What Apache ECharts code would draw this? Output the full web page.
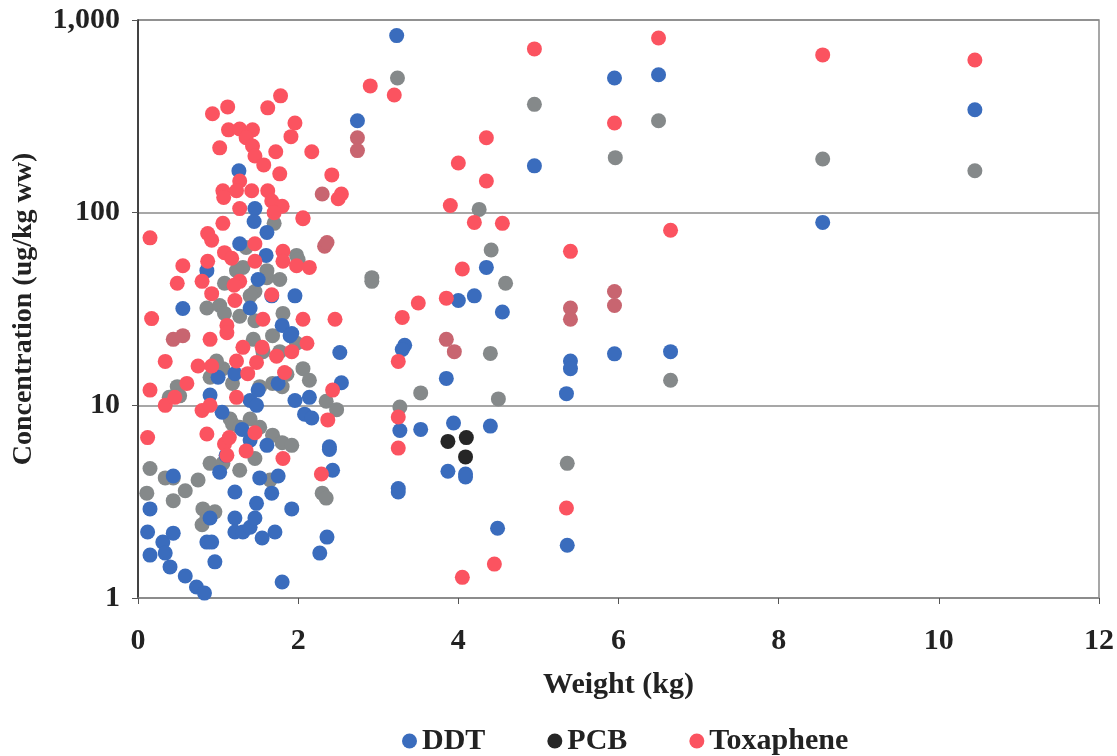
<!DOCTYPE html>
<html>
<head>
<meta charset="utf-8">
<script src="https://cdn.jsdelivr.net/npm/echarts@6/dist/echarts.min.js"></script>
<style>html,body{margin:0;padding:0;background:#fff}#c{width:1117px;height:756px}</style>
</head>
<body>
<div id="c"></div>
<script>
const seriesNames = ['DDT', 'PCB', 'Toxaphene'];
const xTicks = [0, 2, 4, 6, 8, 10, 12];
const yTicks = [1, 10, 100, 1000];

const ddt = [
 [3.23,830],[2.74,300],[4.95,175],[5.95,500],[6.5,520],[10.45,342],[8.55,89],[6.65,19],[5.95,18.5],[5.4,17],[5.4,15.5],[5.35,11.5],
 [4.55,30.5],[4.35,52],[4.2,37],[4.0,35],[3.33,20.5],[3.3,19.5],[3.85,13.8],[3.94,8.1],[4.4,7.8],[3.53,7.5],[3.27,7.4],[3.87,4.55],
 [4.09,4.25],[4.09,4.4],[3.25,3.7],[3.25,3.55],[4.49,2.3],[5.36,1.88],
 [1.26,165],[1.46,105],[1.27,69],[1.61,79],[0.86,50],[0.56,31.8],[1.67,37],[1.96,37],[1.4,32],[1.8,26],[1.92,23.6],[2.52,18.8],
 [2.54,13.1],[0.9,11.3],[1.05,9.2],[1.4,10.6],[1.48,10],[1.96,10.6],[2.14,11],[2.08,9],[2.17,8.6],[1.4,6.6],[1.61,6.2],[2.39,6.1],
 [1.21,14.6],[1.9,23],[0.15,2.9],[0.12,2.2],[0.15,1.67],[0.31,1.95],[0.44,2.17],[0.34,1.71],[0.4,1.45],[0.59,1.3],[0.73,1.14],
 [0.83,1.06],[0.86,1.95],[0.92,1.95],[0.96,1.54],[1.21,3.55],[1.21,2.6],[1.21,2.2],[1.31,2.2],[1.4,2.33],[1.46,2.6],[1.48,3.1],
 [1.55,2.05],[1.71,2.2],[1.67,3.5],[1.92,2.9],[2.36,2.07],[2.27,1.71],[1.8,1.21],[2.43,4.6],[1.75,4.3],[1.52,4.2],[0.44,4.3],
 [1.02,4.5],[2.39,5.9],[0.9,2.6],[1.1,5.5],[1.3,7.5],[1.5,12],[1.75,13],[1.0,14],[1.5,45],[1.6,60],[1.45,90]
];

const pcb = [
 [3.24,500],[4.95,365],[6.5,300],[5.96,193],[8.55,190],[10.45,165],[4.26,104],[4.41,64],[4.59,43],[2.92,46],[2.92,44],
 [4.4,18.6],[3.53,11.6],[4.5,10.8],[3.27,9.8],[5.36,5.0],[6.65,13.5],
 [0.15,4.7],[0.34,4.2],[0.44,4.2],[0.59,3.6],[0.44,3.2],[0.11,3.5],[0.75,4.1],[0.9,5],[1.06,5],[1.27,4.6],[1.46,5.3],[1.65,4.1],
 [0.81,2.9],[0.96,2.8],[0.8,2.4],[0.86,2.6],[2.3,3.5],[2.35,3.3],
 [0.9,14],[1.06,15.5],[1.18,13],[1.52,12.5],[1.68,13],[1.8,12.5],[2.06,15.5],[2.14,13.5],[2.35,10.5],[2.48,9.5],[0.49,12.5],
 [0.39,11],[0.52,11.2],[1.15,8.5],[1.18,8],[1.27,7.7],[1.68,7],[1.8,6.4],[1.92,6.2],[1.4,8.5],[1.52,7.7],[1.44,22],[1.68,23],
 [1.56,19],[1.77,19],[1.98,21],[1.86,14.5],[0.98,17],
 [1.08,43],[1.31,52],[1.46,39],[1.61,46],[1.77,45],[1.98,60],[0.86,32],[1.02,33],[1.27,29],[1.46,27.5],[1.81,30],[1.23,50],
 [1.61,50],[1.4,37],[1.08,30],[2.0,57],[1.7,88],[1.35,66]
];
const pcbDark = [[3.87,6.5],[4.1,6.8],[4.09,5.4]];

const toxaphene = [
 [4.95,708],[6.5,807],[8.55,659],[10.45,620],[5.95,292],[6.65,81],[5.4,63],[5.35,2.93],[4.0,181],[4.35,245],[4.35,146],[4.2,89],
 [4.55,88],[3.9,109],[4.05,51],[3.85,36],[3.5,34],[3.3,28.6],[3.25,16.9],[3.25,8.7],[3.25,6.0],[4.05,1.28],[4.45,1.5],[2.9,455],
 [3.2,408],
 [0.93,326],[1.12,354],[1.62,350],[1.78,404],[1.96,292],[1.91,248],[2.17,207],[2.42,157],[2.54,125],[2.5,118],[1.13,269],[1.27,272],
 [1.43,269],[1.35,245],[1.02,217],[1.43,222],[1.46,197],[1.57,177],[1.72,207],[1.77,159],[1.27,146],[1.06,130],[1.07,120],[1.23,130],
 [1.42,130],[1.62,130],[1.67,115],[1.8,108],[1.27,105],[2.06,94],[0.15,74],[1.06,88],[0.87,78],[0.92,72],[1.46,69],[2.06,93],
 [0.56,53],[0.49,43],[0.87,56],[0.8,44],[0.92,38],[1.08,62],[1.17,58],[1.46,56],[1.81,63],[1.81,56],[1.98,53],[2.14,52],[0.17,28.2],
 [1.27,44],[1.21,35],[1.67,37.5],[1.56,28],[2.06,28],[2.46,28],[1.11,26],[0.34,16.9],[0.15,12],[0.34,10],[0.46,11],[0.61,13],
 [0.8,9.4],[0.9,10],[0.12,6.8],[0.75,16],[0.92,16],[0.9,22],[1.11,23.8],[1.31,20],[1.55,20],[1.23,17],[1.48,16.7],[1.73,18],
 [1.92,19],[2.11,21],[1.37,14.6],[1.83,14.8],[1.23,11],[2.43,12],[2.37,8.4],[0.86,7.1],[1.08,6.3],[1.14,6.8],[1.46,7.2],[1.81,5.3],
 [2.29,4.4],[1.11,5.5],[1.35,5.8],[1.2,42],[1.7,100]
];
// points where a Toxaphene mark overlaps a PCB mark (appear mauve)
const toxapheneOverlap = [
 [2.74,245],[2.74,210],[3.85,22],[3.95,19],[5.4,32],[5.4,28],[5.95,39],[5.95,33],[0.44,22],[0.56,23],[2.3,125],[2.33,67],[2.36,70]
];

const colors = { DDT: '#3a6cbd', PCB: '#85898a', PCBdark: '#262626', Tox: '#fb5360', TorP: '#c86570' };
const font = '"Liberation Serif", "Times New Roman", serif';

const chart = echarts.init(document.getElementById('c'), null, { renderer: 'canvas' });
chart.setOption({
  animation: false,
  backgroundColor: '#fff',
  grid: { left: 138, right: 17, top: 20, bottom: 158, show: true, borderColor: '#8a8a8a', borderWidth: 1.5 },
  xAxis: {
    type: 'value', min: 0, max: 12, interval: 2,
    name: 'Weight (kg)', nameLocation: 'middle', nameGap: 72,
    nameTextStyle: { fontFamily: font, fontWeight: 'bold', fontSize: 30, color: '#222' },
    axisLine: { show: true, lineStyle: { color: '#8a8a8a', width: 1.5 } },
    axisTick: { show: true, inside: false, length: 6, lineStyle: { color: '#555' } },
    axisLabel: { fontFamily: font, fontWeight: 'bold', fontSize: 30, color: '#222', margin: 28,
      formatter: v => xTicks.includes(v) ? String(v) : '' },
    splitLine: { show: false }
  },
  yAxis: {
    type: 'log', logBase: 10, min: 1, max: 1000,
    name: 'Concentration (ug/kg ww)', nameLocation: 'middle', nameGap: 100, nameRotate: 90,
    nameTextStyle: { fontFamily: font, fontWeight: 'bold', fontSize: 28, color: '#222' },
    axisLine: { show: true, lineStyle: { color: '#222', width: 1.5 } },
    axisTick: { show: true, inside: false, length: 6, lineStyle: { color: '#555' } },
    axisLabel: { fontFamily: font, fontWeight: 'bold', fontSize: 30, color: '#222', margin: 18,
      formatter: v => yTicks.includes(Math.round(v)) ? Math.round(v).toLocaleString('en-US') : '' },
    splitLine: { show: true, lineStyle: { color: '#8a8a8a', width: 1.5 } }
  },
  legend: {
    left: 397, top: 721, itemGap: 62, itemWidth: 15, itemHeight: 15, icon: 'circle',
    textStyle: { fontFamily: font, fontWeight: 'bold', fontSize: 30, color: '#222' },
    data: [
      { name: seriesNames[0], itemStyle: { color: colors.DDT } },
      { name: seriesNames[1], itemStyle: { color: colors.PCBdark } },
      { name: seriesNames[2], itemStyle: { color: colors.Tox } }
    ]
  },
  series: [
    { name: seriesNames[1], type: 'scatter', symbolSize: 15, itemStyle: { color: colors.PCB, opacity: 1 },
      data: pcb.concat(pcbDark.map(p => ({ value: p, itemStyle: { color: colors.PCBdark } }))), z: 2 },
    { name: seriesNames[0], type: 'scatter', symbolSize: 15, itemStyle: { color: colors.DDT, opacity: 1 }, data: ddt, z: 3 },
    { name: seriesNames[2], type: 'scatter', symbolSize: 15, itemStyle: { color: colors.Tox, opacity: 1 },
      data: toxaphene.concat(toxapheneOverlap.map(p => ({ value: p, itemStyle: { color: colors.TorP } }))), z: 4 }
  ]
});
</script>
</body>
</html>
